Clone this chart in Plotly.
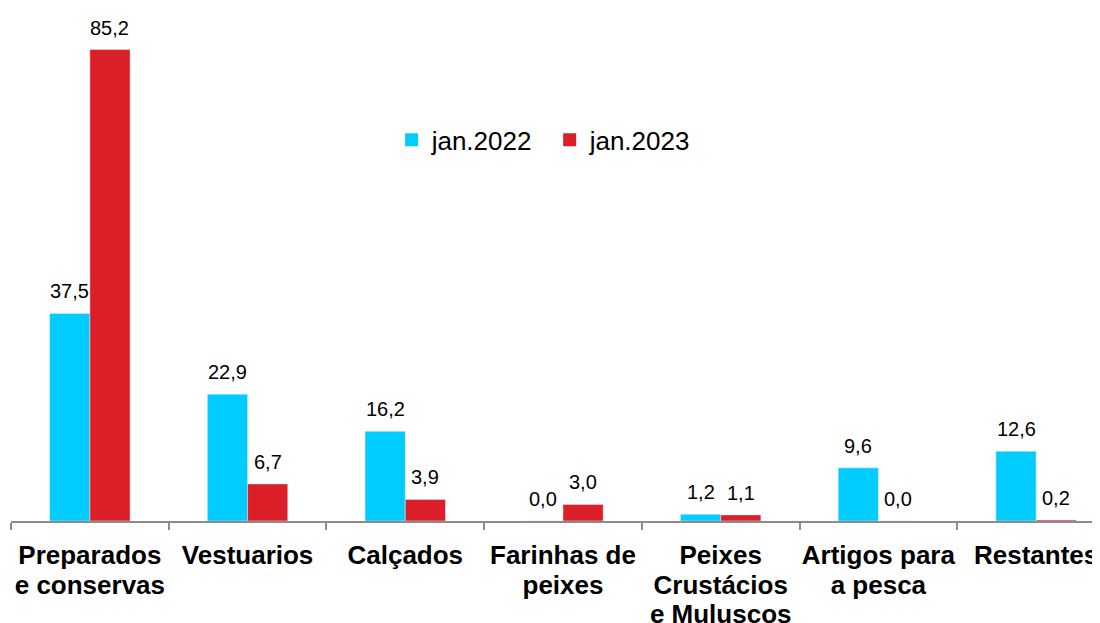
import plotly.graph_objects as go

categories = ["Preparados<br>e conservas", "Vestuarios", "Calçados", "Farinhas de<br>peixes",
              "Peixes<br>Crustácios<br>e Muluscos", "Artigos para<br>a pesca", "Restantes"]
jan2022 = [37.5, 22.9, 16.2, 0.0, 1.2, 9.6, 12.6]
jan2023 = [85.2, 6.7, 3.9, 3.0, 1.1, 0.0, 0.2]

BLUE = "#00CCFF"
RED = "#DA1F28"
FONT = "Liberation Sans, Arial"

fig = go.Figure()
fig.add_trace(go.Bar(x=categories, y=jan2022, name="jan.2022", marker_color=BLUE,
                     showlegend=False))
fig.add_trace(go.Bar(x=categories, y=jan2023, name="jan.2023", marker_color=RED,
                     showlegend=False))
# legend entries
fig.add_trace(go.Scatter(x=[None], y=[None], mode="markers", name="jan.2022",
                         marker=dict(symbol="square", size=13, color=BLUE)))
fig.add_trace(go.Scatter(x=[None], y=[None], mode="markers", name="jan.2023",
                         marker=dict(symbol="square", size=13, color=RED)))

# value labels above bars
for series, shift in ((jan2022, -20), (jan2023, 20)):
    for c, v in zip(categories, series):
        fig.add_annotation(x=c, y=v, xref="x", yref="y", text=f"{v:.1f}".replace(".", ","),
                           showarrow=False, xshift=shift, yshift=9, yanchor="bottom",
                           font=dict(family=FONT, size=20, color="#000"))

fig.update_layout(
    width=1100, height=623,
    margin=dict(l=3, r=0, t=0, b=110, autoexpand=False),
    paper_bgcolor="white", plot_bgcolor="white",
    barmode="group", bargap=0.49, bargroupgap=0,
    separators=",.",
    font=dict(family=FONT, color="#000"),
    legend=dict(orientation="h", x=0.347, y=0.743, xanchor="left", yanchor="middle",
                font=dict(size=26), entrywidth=113, entrywidthmode="pixels",
                tracegroupgap=0, bgcolor="rgba(0,0,0,0)"),
)
fig.update_xaxes(type="category", range=[-0.5, 6.456], showline=True, linecolor="#8c8c8c",
                 linewidth=2, ticks="outside", tickson="boundaries", ticklen=7, tickwidth=2,
                 tickcolor="#8c8c8c", tickfont=dict(size=23, family=FONT, color="#000"),
                 tickangle=0, ticklabelstandoff=13, automargin=False,
                 showgrid=False, zeroline=False)
fig.update_xaxes(tickprefix='<b><span style="font-size:26px">', ticksuffix="</span></b>")
fig.update_yaxes(range=[0, 92.7], visible=False, showgrid=False, zeroline=False)

fig.write_html("out.html")
